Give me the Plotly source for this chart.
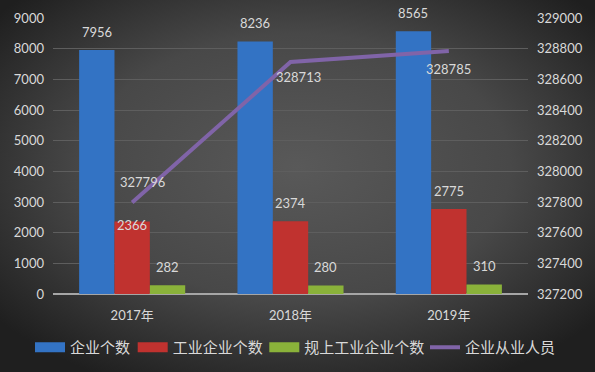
import plotly.graph_objects as go

categories = ["2017年", "2018年", "2019年"]
enterprises = [7956, 8236, 8565]
industrial = [2366, 2374, 2775]
above_scale = [282, 280, 310]
employees = [327796, 328713, 328785]

W, H = 595, 372
ML, MR, MT, MB = 53, 67, 18, 78
PW, PH = W - ML - MR, H - MT - MB
BARGAP = 0.33

label_color = "#d9d9d9"
num_font = "Lato, 'Noto Sans CJK SC', sans-serif"
cjk_font = "'Noto Sans CJK SC', sans-serif"

svg = (
    "data:image/svg+xml;utf8,"
    "<svg xmlns='http://www.w3.org/2000/svg' width='595' height='372' viewBox='0 0 595 372' preserveAspectRatio='none'>"
    "<defs><radialGradient id='g' cx='50%' cy='45%' r='65%'>"
    "<stop offset='0%' stop-color='%23595959'/>"
    "<stop offset='55%' stop-color='%23484848'/>"
    "<stop offset='100%' stop-color='%231f1f1f'/>"
    "</radialGradient></defs>"
    "<rect width='595' height='372' fill='url(%23g)'/></svg>"
)

fig = go.Figure()

bar_series = [("企业个数", enterprises, "#3373c4"),
              ("工业企业个数", industrial, "#c0322f"),
              ("规上工业企业个数", above_scale, "#8ab23a")]
for name, vals, color in bar_series:
    fig.add_trace(go.Bar(x=categories, y=vals, name=name,
                         marker=dict(color=color, line=dict(width=0)),
                         showlegend=False))

fig.add_trace(go.Scatter(
    x=categories, y=employees, name="企业从业人员", yaxis="y2",
    mode="lines", line=dict(color="#8064a8", width=4),
    cliponaxis=False, showlegend=False,
))

# data labels
annotations = []
n = len(bar_series)
bw = (1 - BARGAP) / n
for k, (name, vals, color) in enumerate(bar_series):
    for i, v in enumerate(vals):
        inside = (k == 1 and i == 0)
        annotations.append(dict(
            x=i + (k - (n - 1) / 2) * bw, y=v, xref="x", yref="y",
            text=str(v), showarrow=False, yanchor="middle",
            yshift=-4 if inside else 18,
            font=dict(family=num_font, size=13, color=label_color)))

line_shifts = [(10, 21), (8, -15), (0, -18)]
for i, v in enumerate(employees):
    dx, dy = line_shifts[i]
    annotations.append(dict(
        x=i, y=v, xref="x", yref="y2", text=str(v), showarrow=False,
        yanchor="middle", xshift=dx, yshift=dy,
        font=dict(family=num_font, size=13, color=label_color)))

# legend entries, one legend per entry so they sit on one row like the original
legend_items = [("企业个数", "#3373c4", 10, "legend", 30),
                ("工业企业个数", "#c0322f", 10, "legend2", 132.7),
                ("规上工业企业个数", "#8ab23a", 10, "legend3", 264.3),
                ("企业从业人员", "#8064a8", 4, "legend4", 425)]
legend_layouts = {}
for name, color, w, lg, lx in legend_items:
    fig.add_trace(go.Scatter(x=[None], y=[None], mode="lines", name=name, legend=lg,
                             line=dict(color=color, width=w), showlegend=True))
    legend_layouts[lg] = dict(orientation="h", xref="container", yref="container",
                              x=lx / W, xanchor="left", y=1 - 347.5 / H, yanchor="middle",
                              font=dict(family=cjk_font, size=15, color=label_color),
                              itemwidth=30, bgcolor="rgba(0,0,0,0)")

fig.update_layout(
    width=W, height=H,
    margin=dict(l=ML, r=MR, t=MT, b=MB, autoexpand=False),
    paper_bgcolor="#3a3a3a", plot_bgcolor="rgba(0,0,0,0)",
    barmode="group", bargap=BARGAP, bargroupgap=0,
    font=dict(family=num_font, color=label_color, size=13),
    xaxis=dict(showgrid=False, showline=False, ticks="", ticklabelstandoff=12,
               tickfont=dict(family=num_font, size=13, color=label_color),
               zeroline=False),
    yaxis=dict(range=[0, 9000], dtick=1000, showgrid=True, gridcolor="#5e5e5e", gridwidth=1,
               zeroline=True, zerolinecolor="#a6a6a6", zerolinewidth=2,
               tickfont=dict(family=num_font, size=13, color=label_color),
               ticks="", showline=False, ticklabelstandoff=8),
    yaxis2=dict(range=[327200, 329000], dtick=200, overlaying="y", side="right",
                showgrid=False, zeroline=False, ticks="", showline=False,
                tickformat="d", ticklabelstandoff=8,
                tickfont=dict(family=num_font, size=13, color=label_color)),
    annotations=annotations,
    images=[dict(source=svg, xref="paper", yref="paper",
                 x=-ML / PW, y=1 + MT / PH, sizex=W / PW, sizey=H / PH,
                 xanchor="left", yanchor="top", sizing="stretch", layer="below")],
    **legend_layouts,
)

fig.write_html(
    "out.html",
    config={"displayModeBar": False},
    post_script="document.body.style.margin='0';document.body.style.background='#2a2a2a';",
)
